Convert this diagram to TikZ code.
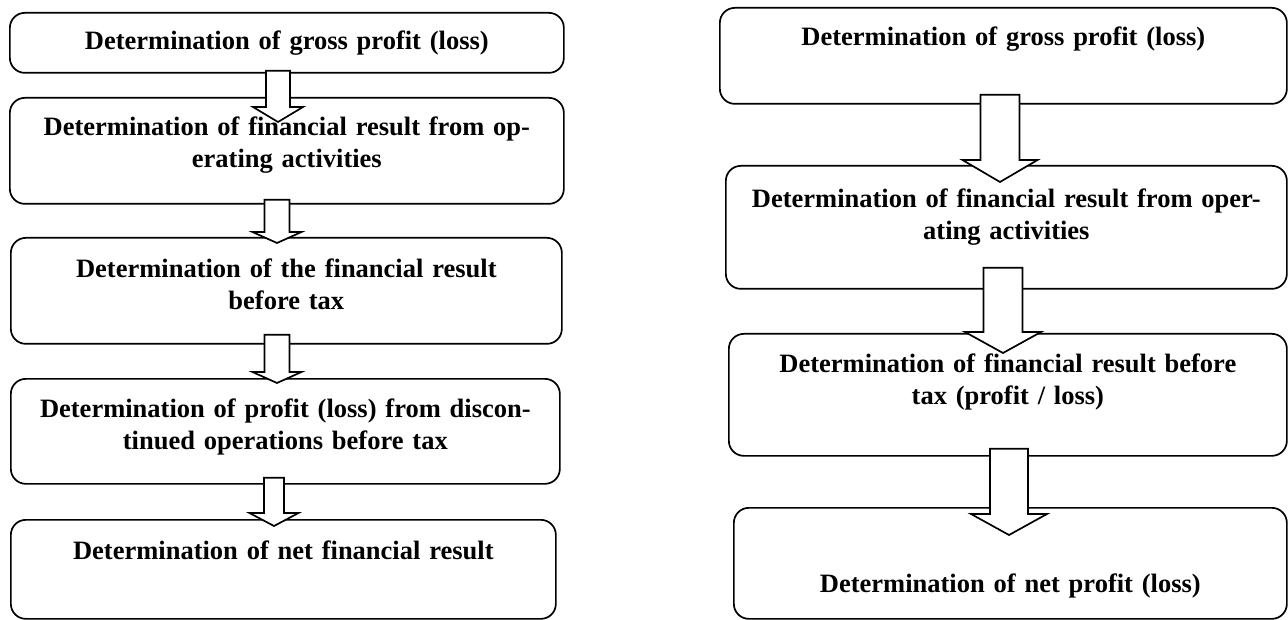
\documentclass[tikz,border=0pt]{standalone}
\usepackage{fontspec}
\setmainfont{Liberation Serif}
\usetikzlibrary{positioning,calc}

\tikzset{
  stage/.style={draw, line width=1.7pt, rounded corners=15pt, inner sep=0pt, anchor=north west},
  stagetext/.style={font=\fontsize{26.5}{32}\selectfont\bfseries, align=center, text width=540pt, inner sep=0pt},
  blockarr/.style={draw, fill=white, line width=1.7pt, line join=miter},
}

% hollow block arrow: from, to, centre x, shaft half, head half, head length, start above, tip depth
\newcommand{\flowarrow}[8]{%
  \draw[blockarr] let \p1=(#1.south), \p2=(#2.north) in
    (#3-#4,\y1+#7) -- (#3+#4,\y1+#7) -- (#3+#4,\y2-#8+#6) -- (#3+#5,\y2-#8+#6)
    -- (#3,\y2-#8) -- (#3-#5,\y2-#8+#6) -- (#3-#4,\y2-#8+#6) -- cycle;
}

\begin{document}
\begin{tikzpicture}[x=1pt, y=1pt]
  \useasboundingbox (0,0) rectangle (1288,-620);
  % left chain
  \node[stage, minimum width=554pt, minimum height=60pt]  (L1) at (9,-12)   {};
  \node[stage, minimum width=554pt, minimum height=106pt] (L2) at (9,-97)   {};
  \node[stage, minimum width=551pt, minimum height=106pt] (L3) at (10,-237) {};
  \node[stage, minimum width=549pt, minimum height=105pt] (L4) at (10,-378) {};
  \node[stage, minimum width=545pt, minimum height=99pt]  (L5) at (10,-519) {};
  % right chain
  \node[stage, minimum width=567pt, minimum height=96pt]  (R1) at (719,-7)   {};
  \node[stage, minimum width=561pt, minimum height=123pt] (R2) at (725,-165) {};
  \node[stage, minimum width=558pt, minimum height=122pt] (R3) at (728,-333) {};
  \node[stage, minimum width=553pt, minimum height=111pt] (R4) at (733,-507) {};

  \flowarrow{L1}{L2}{278}{12}{25}{15}{3}{25}
  \flowarrow{L2}{L3}{277}{12.5}{24.5}{11}{5}{6}
  \flowarrow{L3}{L4}{277}{12.5}{24.5}{11}{10}{5}
  \flowarrow{L4}{L5}{274}{10}{24.5}{13}{7}{7}
  \flowarrow{R1}{R2}{1000}{19.5}{37.5}{22}{10}{17}
  \flowarrow{R2}{R3}{1003}{19.5}{38}{21}{22}{20}
  \flowarrow{R3}{R4}{1009}{19}{38}{21}{8}{28}

  \node[stagetext, below=19pt of L1.north] (tL1) {Determination of gross profit (loss)};
  \node[stagetext, below=20pt of L2.north] (tL2) {Determination of financial result from op-\\erating activities};
  \node[stagetext, below=22pt of L3.north] (tL3) {Determination of the financial result\\before tax};
  \node[stagetext, below=21pt of L4.north] (tL4) {Determination of profit (loss) from discon-\\tinued operations before tax};
  \node[stagetext, below=22pt of L5.north] (tL5) {Determination of net financial result};

  \node[stagetext, below=20pt of R1.north] (tR1) {Determination of gross profit (loss)};
  \node[stagetext, below=24pt of R2.north] (tR2) {Determination of financial result from oper-\\ating activities};
  \node[stagetext, below=21pt of R3.north] (tR3) {Determination of financial result before\\tax (profit / loss)};
  \node[stagetext, below=67pt of R4.north] (tR4) {Determination of net profit (loss)};
\end{tikzpicture}
\end{document}
